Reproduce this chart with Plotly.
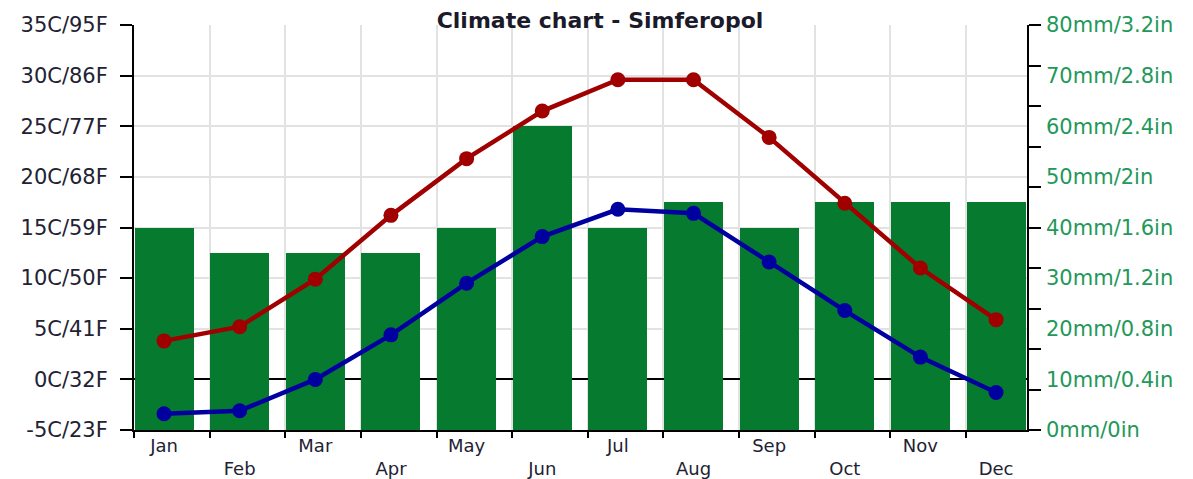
import plotly.graph_objects as go

months = ["Jan", "Feb", "Mar", "Apr", "May", "Jun", "Jul", "Aug", "Sep", "Oct", "Nov", "Dec"]
precip_mm = [40, 35, 35, 35, 40, 60, 40, 45, 40, 45, 45, 45]
temp_max = [3.8, 5.2, 9.9, 16.2, 21.8, 26.5, 29.6, 29.6, 23.9, 17.4, 11.0, 5.9]
temp_min = [-3.4, -3.1, 0.0, 4.4, 9.5, 14.1, 16.8, 16.4, 11.6, 6.8, 2.2, -1.3]

temp_ticks = [-5, 0, 5, 10, 15, 20, 25, 30, 35]
temp_labels = ["-5C/23F", "0C/32F", "5C/41F", "10C/50F", "15C/59F", "20C/68F", "25C/77F", "30C/86F", "35C/95F"]
precip_ticks = [0, 10, 20, 30, 40, 50, 60, 70, 80]
precip_labels = ["0mm/0in", "10mm/0.4in", "20mm/0.8in", "30mm/1.2in", "40mm/1.6in",
                 "50mm/2in", "60mm/2.4in", "70mm/2.8in", "80mm/3.2in"]
precip_minor_ticks = [0, 8, 16, 24, 32, 40, 48, 56, 64, 72, 80]

x = list(range(len(months)))
off = 0.397
boundaries = [i - off for i in x]
month_text = [m if i % 2 == 0 else "<br>" + m for i, m in enumerate(months)]

FONT = "DejaVu Sans"
GREEN = "#067a2e"
RED = "#a00000"
BLUE = "#0000a0"
GRID = "#e2e2e2"

fig = go.Figure()
fig.add_trace(go.Bar(x=x, y=precip_mm, xaxis="x", yaxis="y", marker=dict(color=GREEN, line=dict(width=0)),
                     width=0.78, hoverinfo="y", name="Precipitation"))
# invisible helper traces so the overlay axes (labels / extra tick marks) get drawn
fig.add_trace(go.Scatter(x=x, y=precip_mm, xaxis="x2", yaxis="y", mode="markers",
                         marker=dict(opacity=0), hoverinfo="skip", showlegend=False))
fig.add_trace(go.Scatter(x=x, y=precip_mm, xaxis="x", yaxis="y3", mode="markers",
                         marker=dict(opacity=0), hoverinfo="skip", showlegend=False))
fig.add_trace(go.Scatter(x=x, y=temp_max, xaxis="x", yaxis="y2", mode="lines+markers",
                         line=dict(color=RED, width=4.5), marker=dict(color=RED, size=15), name="Max"))
fig.add_trace(go.Scatter(x=x, y=temp_min, xaxis="x", yaxis="y2", mode="lines+markers",
                         line=dict(color=BLUE, width=4.5), marker=dict(color=BLUE, size=15), name="Min"))

xr = [-off, -off + 893 / 75.64]

W, H = 1185, 471
fig.update_layout(
    width=W, height=H,
    margin=dict(l=126, r=166, t=17, b=49, autoexpand=False),
    paper_bgcolor="white", plot_bgcolor="white",
    showlegend=False, bargap=0,
    title=dict(text="<b>Climate chart - Simferopol</b>", x=592 / W, xanchor="center",
               y=1 - 12 / H, yanchor="middle", yref="container",
               font=dict(family=FONT, size=22, color="#1a1a2a")),
    xaxis=dict(range=xr, tickmode="array", tickvals=boundaries, showticklabels=False,
               ticks="outside", ticklen=6, tickwidth=2, tickcolor="black", automargin=False,
               showgrid=True, gridcolor=GRID, gridwidth=2,
               showline=True, linecolor="black", linewidth=2, zeroline=False, fixedrange=True),
    xaxis2=dict(range=xr, overlaying="x", anchor="y", side="bottom", tickmode="array",
                tickvals=x, ticktext=month_text, ticks="", showgrid=False, showline=False,
                zeroline=False, ticklabelstandoff=3, automargin=False,
                tickfont=dict(family=FONT, size=18, color="#222233")),
    yaxis=dict(range=[0, 80], side="right", tickmode="array", tickvals=precip_ticks,
               ticktext=precip_labels, ticks="", showgrid=False, zeroline=False,
               showline=False, ticklabelstandoff=18, automargin=False,
               tickfont=dict(family=FONT, size=21, color="#23985a")),
    yaxis2=dict(range=[-5, 35], overlaying="y", side="left", tickmode="array",
                tickvals=temp_ticks, ticktext=temp_labels, ticks="outside", ticklen=12,
                tickwidth=2, tickcolor="black", showline=True, linecolor="black", linewidth=2,
                showgrid=True, gridcolor=GRID, gridwidth=2, automargin=False,
                zeroline=True, zerolinecolor="black", zerolinewidth=2, ticklabelstandoff=8,
                tickfont=dict(family=FONT, size=21, color="#222233")),
    yaxis3=dict(range=[0, 80], overlaying="y", side="right", anchor="x", tickmode="array",
                tickvals=precip_minor_ticks, showticklabels=False, ticks="outside", ticklen=12,
                tickwidth=2, tickcolor="black", showline=True, linecolor="black", linewidth=2,
                showgrid=False, zeroline=False, automargin=False),
)

fig.write_html("out.html")
